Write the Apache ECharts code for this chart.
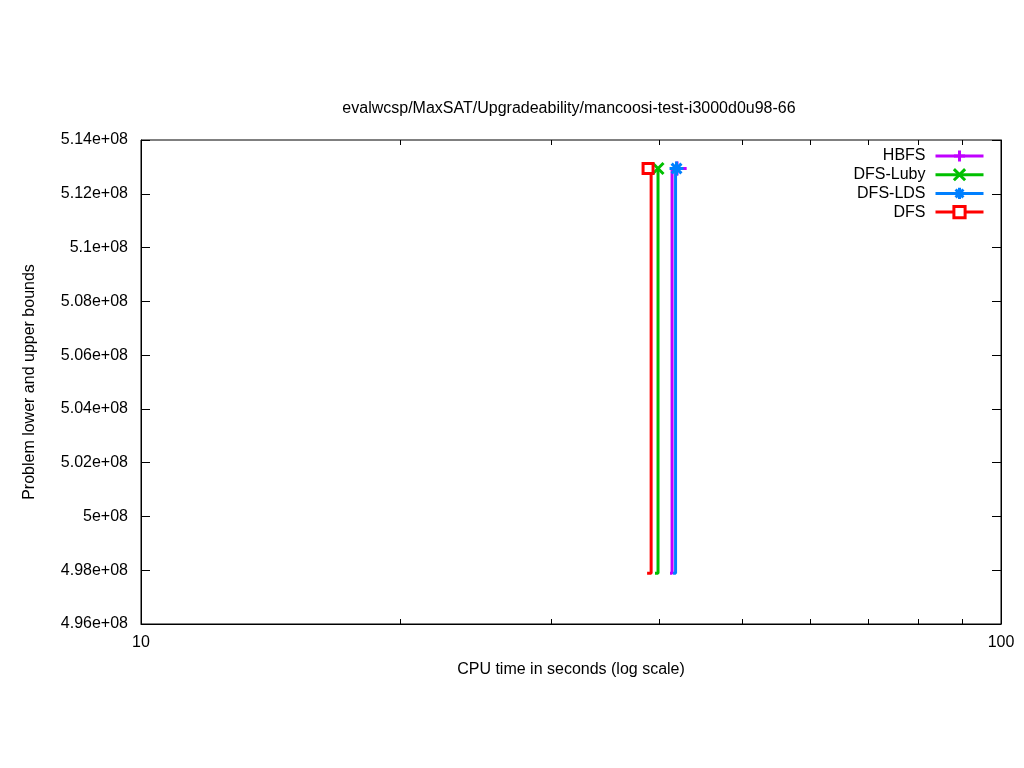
<!DOCTYPE html>
<html>
<head>
<meta charset="utf-8">
<script src="https://cdn.jsdelivr.net/npm/echarts@6/dist/echarts.min.js"></script>
<style>
  html, body { margin: 0; padding: 0; background: #fff; }
  #echarts-main { width: 1024px; height: 768px; }
</style>
</head>
<body>
<div id="echarts-main"></div>
<script>
    // data (x = CPU seconds, y = bound)
    const hbfs_data = [[41.22, 4.9789e8], [41.45, 5.1294e8], [42.0, 5.1294e8], [43.1, 5.1294e8]]
    const luby_data = [[39.60, 4.9789e8], [39.92, 5.1294e8]]
    const lds_data = [[41.56, 4.9789e8], [41.84, 5.1294e8], [41.95, 5.1294e8]]
    const dfs_data = [[38.77, 4.9789e8], [39.19, 5.1294e8], [38.87, 5.1294e8]]
    // which point carries the marker
    const hbfs_mark = 2
    const luby_mark = 1
    const lds_mark = 2
    const dfs_mark = 2

    const x_minor_ticks = [20, 30, 40, 50, 60, 70, 80, 90]
    const y_min = 4.96e8
    const y_max = 5.14e8
    const y_step = 0.02e8

    const font = 'Liberation Sans, Arial, sans-serif'

    let chartDom = document.getElementById('echarts-main')
    let myChart = echarts.init(chartDom)

    function withMarker(data, markIdx) {
        return data.map((p, i) => ({
            value: p,
            symbolSize: i === markIdx ? undefined : 0
        }))
    }

    function stepSeries(name, color, data, markIdx, symbol, symbolSize, fill) {
        return {
            name: name,
            type: 'line',
            step: 'end',
            data: withMarker(data, markIdx),
            symbol: symbol,
            symbolSize: symbolSize,
            showAllSymbol: true,
            lineStyle: { color: color, width: 3 },
            itemStyle: { color: fill, borderColor: color, borderWidth: 3 },
            emphasis: { disabled: true },
            animation: false,
            z: 3
        }
    }

    const option = {
        animation: false,
        textStyle: { fontFamily: font },
        title: {
            text: 'evalwcsp/MaxSAT/Upgradeability/mancoosi-test-i3000d0u98-66',
            left: 569,
            top: 101,
            padding: 0,
            textAlign: 'center',
            textStyle: { fontSize: 16, fontWeight: 'normal', color: '#000', fontFamily: font }
        },
        legend: {
            data: ['HBFS', 'DFS-Luby', 'DFS-LDS', 'DFS'],
            orient: 'vertical',
            align: 'right',
            right: 39,
            top: 148,
            itemWidth: 48,
            itemHeight: 14,
            itemGap: 2.7,
            padding: 0,
            itemStyle: { borderWidth: 3 },
            lineStyle: { width: 3 },
            textStyle: { fontSize: 16, color: '#000', fontFamily: font, padding: [0, 5, 0, 0] }
        },
        grid: {
            left: 141, right: 23, top: 140, bottom: 144,
            show: true, borderColor: '#000', borderWidth: 1, backgroundColor: 'transparent'
        },
        xAxis: [{
            type: 'log',
            logBase: 10,
            min: 10,
            max: 100,
            name: 'CPU time in seconds (log scale)',
            nameLocation: 'middle',
            nameGap: 38,
            nameTextStyle: { fontSize: 16, color: '#000', fontFamily: font },
            axisLine: { show: true, lineStyle: { color: '#000' } },
            axisTick: { show: false },
            splitLine: { show: false },
            axisLabel: { color: '#000', fontSize: 16, margin: 11, fontFamily: font }
        }],
        yAxis: [{
            type: 'value',
            min: y_min,
            max: y_max,
            interval: y_step,
            name: 'Problem lower and upper bounds',
            nameLocation: 'middle',
            nameGap: 103,
            nameTextStyle: { fontSize: 16, color: '#000', fontFamily: font },
            axisLine: { show: true, lineStyle: { color: '#000' } },
            axisTick: { show: true, inside: true, length: 9, lineStyle: { color: '#000' } },
            splitLine: { show: false },
            axisLabel: {
                color: '#000', fontSize: 16, margin: 13, fontFamily: font,
                formatter: v => parseFloat((v / 1e8).toFixed(4)) + 'e+08'
            }
        }, {
            type: 'value',
            position: 'right',
            min: y_min,
            max: y_max,
            interval: y_step,
            axisLine: { show: true, lineStyle: { color: '#000' } },
            axisTick: { show: true, inside: true, length: 9, lineStyle: { color: '#000' } },
            splitLine: { show: false },
            axisLabel: { show: false }
        }],
        series: [
            {
                type: 'custom',
                silent: true,
                animation: false,
                data: x_minor_ticks.map(v => [v, y_min]),
                encode: { x: 0, y: 1 },
                renderItem: (params, api) => {
                    const xv = api.value(0)
                    const pb = api.coord([xv, y_min])
                    const pt = api.coord([xv, y_max])
                    const x = Math.round(pb[0]) + 0.5
                    return {
                        type: 'group',
                        children: [
                            { type: 'line', shape: { x1: x, y1: pb[1], x2: x, y2: pb[1] - 5 }, style: { stroke: '#000', lineWidth: 1 } },
                            { type: 'line', shape: { x1: x, y1: pt[1], x2: x, y2: pt[1] + 5 }, style: { stroke: '#000', lineWidth: 1 } }
                        ]
                    }
                },
                z: 1
            },
            stepSeries('HBFS', '#c000ff', hbfs_data, hbfs_mark,
                'path://M0,5L10,5M5,0L5,10', 14, '#c000ff'),
            stepSeries('DFS-Luby', '#00c000', luby_data, luby_mark,
                'path://M0,0L10,10M0,10L10,0', 11, '#00c000'),
            stepSeries('DFS-LDS', '#0080ff', lds_data, lds_mark,
                'path://M0,5L10,5M5,0L5,10M1.5,1.5L8.5,8.5M1.5,8.5L8.5,1.5', 14, '#0080ff'),
            stepSeries('DFS', '#ff0000', dfs_data, dfs_mark,
                'rect', 10, '#ffffff')
        ]
    }

    myChart.setOption(option)
</script>
</body>
</html>
